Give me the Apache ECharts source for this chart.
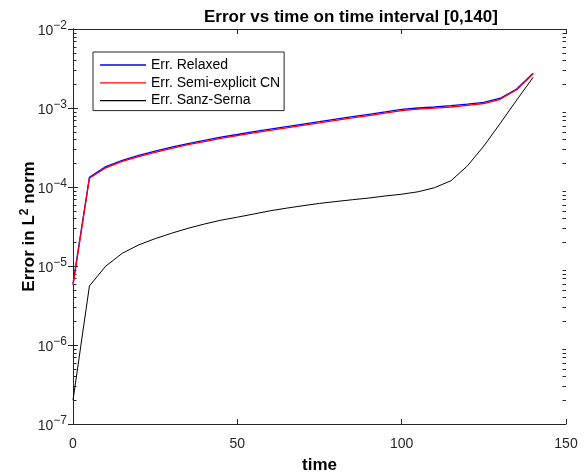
<!DOCTYPE html>
<html><head><meta charset="utf-8">
<script src="https://cdn.jsdelivr.net/npm/echarts@6/dist/echarts.min.js"></script>
<style>html,body{margin:0;padding:0;background:#fff}#c{width:588px;height:475px}</style>
</head><body><div id="c"></div>
<script>
const times = [0,5,10,15,20,25,30,35,40,45,50,55,60,65,70,75,80,85,90,95,100,105,110,115,120,125,130,135,140];
const errRelaxed = [6.0e-6,1.33e-4,1.81e-4,2.18e-4,2.51e-4,2.85e-4,3.20e-4,3.55e-4,3.89e-4,4.27e-4,4.62e-4,5.01e-4,5.40e-4,5.82e-4,6.25e-4,6.71e-4,7.24e-4,7.76e-4,8.32e-4,8.91e-4,9.6e-4,1.0e-3,1.03e-3,1.07e-3,1.12e-3,1.18e-3,1.33e-3,1.74e-3,2.75e-3];
const errCN = [5.7e-6,1.29e-4,1.75e-4,2.11e-4,2.43e-4,2.75e-4,3.09e-4,3.43e-4,3.75e-4,4.12e-4,4.46e-4,4.83e-4,5.21e-4,5.62e-4,6.03e-4,6.48e-4,6.99e-4,7.49e-4,8.03e-4,8.6e-4,9.27e-4,9.66e-4,9.95e-4,1.03e-3,1.08e-3,1.14e-3,1.29e-3,1.70e-3,2.72e-3];
const errSanzSerna = [2.0e-7,5.6e-6,1.0e-5,1.45e-5,1.85e-5,2.22e-5,2.6e-5,3.0e-5,3.4e-5,3.8e-5,4.15e-5,4.55e-5,5.0e-5,5.4e-5,5.8e-5,6.2e-5,6.55e-5,6.9e-5,7.25e-5,7.7e-5,8.1e-5,8.7e-5,9.8e-5,1.2e-4,1.85e-4,3.3e-4,6.4e-4,1.26e-3,2.45e-3];
const seriesNames = ['Err. Relaxed','Err. Semi-explicit CN','Err. Sanz-Serna'];
const xTickLabels = [0,50,100,150];
const yDecadeExponents = [-7,-6,-5,-4,-3,-2];
const minorMantissas = [2,3,4,5,6,7,8,9];

const minorTicks = [];
yDecadeExponents.slice(0,-1).forEach(e => minorMantissas.forEach(m => minorTicks.push([0, m * Math.pow(10, e)])));

const axisColor = '#262626';
const font = 'Liberation Sans, Arial, Helvetica, sans-serif';
const pair = arr => times.map((t, i) => [t, arr[i]]);

const chart = echarts.init(document.getElementById('c'), null, {renderer: 'canvas'});
const yCommon = {
  type: 'log', logBase: 10,
  min: Math.pow(10, yDecadeExponents[0]), max: Math.pow(10, yDecadeExponents[yDecadeExponents.length-1]),
  splitLine: {show: false},
  axisLine: {show: true, lineStyle: {color: axisColor, width: 1}},
  axisTick: {show: true, inside: true, length: 5, lineStyle: {color: axisColor}},
  minorTick: {show: false}
};
const xCommon = {
  type: 'value', min: xTickLabels[0], max: xTickLabels[xTickLabels.length-1], interval: xTickLabels[1]-xTickLabels[0],
  splitLine: {show: false},
  axisLine: {show: true, onZero: false, lineStyle: {color: axisColor, width: 1}},
  axisTick: {show: true, inside: true, length: 5, lineStyle: {color: axisColor}}
};
chart.setOption({
  animation: false,
  backgroundColor: '#fff',
  title: {
    text: 'Error vs time on time interval [0,140]',
    left: 204, top: 9, padding: 0,
    textStyle: {fontFamily: font, fontSize: 17, fontWeight: 'bold', color: '#000', lineHeight: 17}
  },
  grid: {left: 73, right: 22, top: 29, bottom: 51, containLabel: false, outerBoundsMode: 'none'},
  legend: {
    orient: 'vertical', left: 93, top: 52,
    data: seriesNames,
    icon: 'rect',
    itemWidth: 46, itemHeight: 1.3, itemGap: 3.8,
    padding: [6, 4, 3, 7],
    borderColor: axisColor, borderWidth: 1, backgroundColor: '#fff',
    textStyle: {fontFamily: font, fontSize: 14, color: '#000', lineHeight: 14, padding: [0,0,0,0]},
    selectedMode: false
  },
  xAxis: [
    Object.assign({}, xCommon, {
      position: 'bottom',
      name: 'time', nameLocation: 'middle', nameGap: 33, nameMoveOverlap: false,
      nameTextStyle: {fontFamily: font, fontSize: 17, fontWeight: 'bold', color: '#000'},
      axisLabel: {fontFamily: font, fontSize: 14, color: axisColor, margin: 13}
    }),
    Object.assign({}, xCommon, {position: 'top', axisLabel: {show: false}})
  ],
  yAxis: [
    Object.assign({}, yCommon, {
      position: 'left',
      name: '{n|Error in L}{s|2}{n| norm}', nameLocation: 'middle', nameGap: 35, nameMoveOverlap: false,
      nameTextStyle: {fontFamily: font, color: '#000', rich: {
        n: {fontFamily: font, fontSize: 17, fontWeight: 'bold', color: '#000', verticalAlign: 'bottom', lineHeight: 19},
        s: {fontFamily: font, fontSize: 12, fontWeight: 'bold', color: '#000', verticalAlign: 'top', lineHeight: 12}
      }},
      axisLabel: {
        margin: 6,
        formatter: v => '{b|10}{s|' + String(Math.round(Math.log10(v))).replace('-', '\u2212') + '}',
        rich: {
          b: {fontFamily: font, fontSize: 14, color: axisColor, verticalAlign: 'bottom', padding: [5,0,0,0]},
          s: {fontFamily: font, fontSize: 12, color: axisColor, verticalAlign: 'top'}
        }
      }
    }),
    Object.assign({}, yCommon, {position: 'right', axisLabel: {show: false}})
  ],
  series: [
    {name: seriesNames[0], type: 'line', data: pair(errRelaxed), symbol: 'none', color: '#0000ff', lineStyle: {width: 1.3, color: '#0000ff'}, z: 3},
    {name: seriesNames[1], type: 'line', data: pair(errCN), symbol: 'none', color: '#ff0000', lineStyle: {width: 1.3, color: '#ff0000'}, z: 4},
    {name: seriesNames[2], type: 'line', data: pair(errSanzSerna), symbol: 'none', color: '#000000', lineStyle: {width: 1, color: '#000000'}, z: 5},
    {
      type: 'custom', silent: true, data: minorTicks, z: 2,
      encode: {x: 0, y: 1},
      renderItem: (params, api) => {
        const p = api.coord([0, api.value(1)]);
        const cs = params.coordSys;
        const y = Math.round(p[1]) + 0.5;
        return {type: 'group', children: [
          {type: 'line', shape: {x1: cs.x, y1: y, x2: cs.x + 3.5, y2: y}, style: {stroke: axisColor, lineWidth: 1}},
          {type: 'line', shape: {x1: cs.x + cs.width, y1: y, x2: cs.x + cs.width - 3.5, y2: y}, style: {stroke: axisColor, lineWidth: 1}}
        ]};
      }
    }
  ]
});
</script></body></html>
